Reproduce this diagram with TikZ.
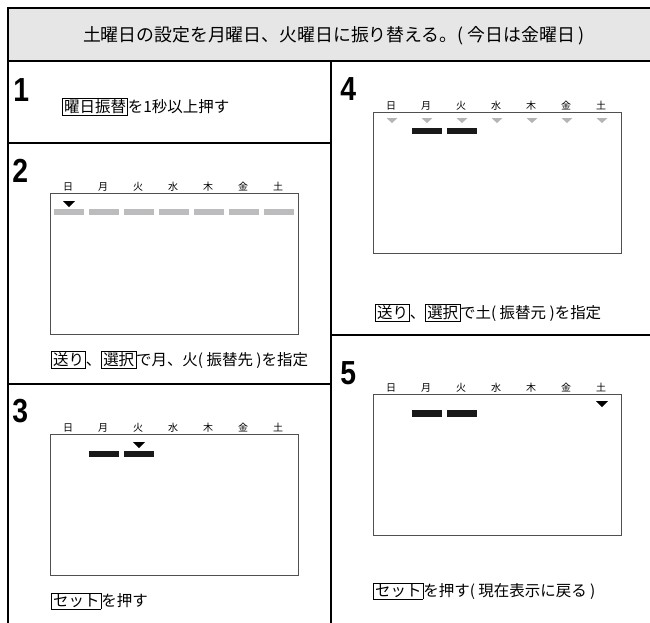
\documentclass[tikz,border=0pt]{standalone}
\usepackage{fontspec}
\setmainfont{Noto Sans CJK JP}
\newfontfamily\numfont{Liberation Sans}
\usetikzlibrary{calc}

\definecolor{hdrgray}{HTML}{E6E6E6}
\definecolor{bargray}{HTML}{BCBCBE}
\definecolor{trigray}{HTML}{B4B4B6}
\definecolor{lcdline}{HTML}{505050}
\newcommand\kbox[1]{{\setlength\fboxsep{1pt}\setlength\fboxrule{0.4pt}\fbox{#1}}}

\tikzset{
  daylab/.style={inner sep=0pt, font=\fontsize{7.5pt}{8pt}\selectfont},
  caption/.style={anchor=west, inner sep=0pt, font=\fontsize{11.6pt}{13pt}\selectfont},
  stepnum/.style={anchor=north west, inner sep=0pt, font=\numfont\bfseries\fontsize{25pt}{25pt}\selectfont},
  lcd/.style={draw=lcdline, line width=0.7pt},
  onbar/.style={fill=black!90},
  offbar/.style={fill=bargray},
}

\begin{document}
\begin{tikzpicture}[x=0.75pt, y=-0.75pt]
\useasboundingbox (0,0) rectangle (650,622);

% 見出し
\fill[hdrgray] (8,8) rectangle (652,61);
\node[font=\fontsize{13.4pt}{15pt}\selectfont] (title) at (334,35.5) {土曜日の設定を月曜日、火曜日に振り替える。( 今日は金曜日 )};

% 枠
\draw[line width=1.6pt] (652,8) -- (8,8) -- (8,625);
\draw[line width=1.6pt] (8,61) -- (652,61);
\draw[line width=1pt] (331,61) -- (331,625);
\draw[line width=1pt] (8,143) -- (332,143);
\draw[line width=1pt] (8,384) -- (332,384);
\draw[line width=1pt] (331,335) -- (652,335);

% 番号
\node[stepnum] (n1) at (13,78) {\scalebox{0.85}[1]{1}};
\node[stepnum] (n2) at (12,159) {\scalebox{0.85}[1]{2}};
\node[stepnum] (n3) at (12,399) {\scalebox{0.85}[1]{3}};
\node[stepnum] (n4) at (340,77) {\scalebox{0.85}[1]{4}};
\node[stepnum] (n5) at (340,361) {\scalebox{0.85}[1]{5}};

% 画面
\coordinate (L2) at (50,193);
\coordinate (L3) at (50,434);
\coordinate (L4) at (373,112);
\coordinate (L5) at (373,394);
\foreach \s in {2,3,4,5} {
  \draw[lcd] (L\s) rectangle ++(248,141);
  \foreach \d [count=\i from 0] in {日,月,火,水,木,金,土} {
    \node[daylab] (d\s-\i) at ($(L\s)+(18+35*\i,-6.5)$) {\d};
  }
}

% 2: 全部グレー
\foreach \i in {0,...,6} {
  \fill[offbar] ($(L2)+(4+35*\i,16)$) rectangle ++(30,6);
}
\fill ($(L2)+(13,8)$) -- ++(12,0) -- ++(-6,6) -- cycle;

% 3: 月、火
\fill[onbar] ($(L3)+(39,17)$) rectangle ++(30,6);
\fill[onbar] ($(L3)+(74,17)$) rectangle ++(30,6);
\fill ($(L3)+(83,8)$) -- ++(12,0) -- ++(-6,6) -- cycle;

% 4: グレーの三角
\foreach \i in {0,...,6} {
  \fill[trigray] ($(L4)+(13.5+35*\i,6)$) -- ++(11,0) -- ++(-5.5,5) -- cycle;
}
\fill[onbar] ($(L4)+(39,16)$) rectangle ++(30,6);
\fill[onbar] ($(L4)+(74,16)$) rectangle ++(30,6);

% 5: 土
\fill[onbar] ($(L5)+(39,16)$) rectangle ++(30,7);
\fill[onbar] ($(L5)+(74,16)$) rectangle ++(30,7);
\fill ($(L5)+(223,7)$) -- ++(12,0) -- ++(-6,6) -- cycle;

% 説明
\node[caption] (c1) at (62,107) {\kbox{曜日振替}を1秒以上押す};
\node[caption] (c2) at (51,360) {\kbox{送り}、\kbox{選択}で月、火( 振替先 )を指定};
\node[caption] (c3) at (51,601) {\kbox{セット}を押す};
\node[caption] (c4) at (375,313) {\kbox{送り}、\kbox{選択}で土( 振替元 )を指定};
\node[caption] (c5) at (373,591) {\kbox{セット}を押す( 現在表示に戻る )};

\end{tikzpicture}
\end{document}
